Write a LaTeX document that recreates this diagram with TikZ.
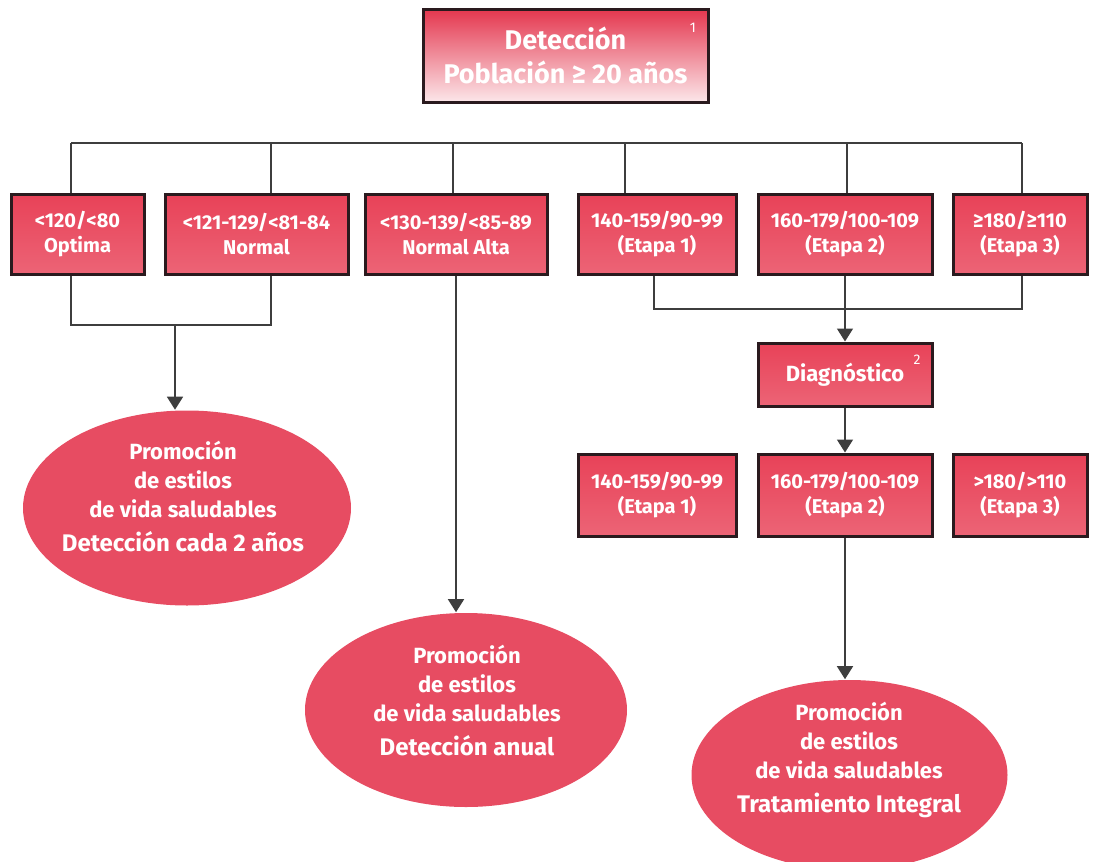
\documentclass[tikz,border=0pt]{standalone}
\usepackage{fontspec}
\setmainfont{Fira Sans}
\usepackage{tikz}
\usetikzlibrary{arrows.meta}
\usetikzlibrary{positioning, shapes.geometric}

\definecolor{boxred}{RGB}{232,66,88}
\definecolor{topred}{RGB}{228,54,78}
\definecolor{ovalred}{RGB}{231,76,98}
\definecolor{rimdark}{RGB}{42,26,30}
\definecolor{linegray}{RGB}{62,62,62}

\begin{document}
\begin{tikzpicture}[x=1pt,y=-1pt,>={Triangle[width=16pt,length=13pt]},line width=1.6pt,draw=linegray,
    box node/.style={rectangle,draw=rimdark,line width=3pt,top color=boxred,bottom color=boxred!82!white,
      text=white,align=center,font=\bfseries\fontsize{20}{25}\selectfont,minimum height=80pt,inner sep=2pt},
    top node/.style={rectangle,draw=rimdark,line width=3pt,top color=topred,middle color=topred!92!white,
      bottom color=topred!12!white,text=white,align=center,font=\bfseries\fontsize{27}{34}\selectfont,
      minimum width=285pt,minimum height=93pt},
    oval node/.style={ellipse,fill=ovalred,draw=none,inner sep=0pt},
    oval text/.style={text=white,align=center,font=\bfseries\fontsize{22}{29}\selectfont},
    note/.style={text=white,font=\fontsize{14}{14}\selectfont,inner sep=0pt}]
    \useasboundingbox (0,0) rectangle (1095,862);

        % detection
        \node[top node] (0) at (565.5,55.5) {Detección\\Población ≥ 20 años};
        \node[note] (n1) at (693,28) {1};

        % first row
        \node[box node,minimum width=133pt] (1) at (77.5,234.5)  {<120/<80\\Optima};
        \node[box node,minimum width=183pt] (2) at (256.5,234.5) {<121-129/<81-84\\Normal};
        \node[box node,minimum width=182pt] (3) at (456,234.5)   {<130-139/<85-89\\Normal Alta};
        \node[box node,minimum width=158pt] (4) at (657,234.5)   {140-159/90-99\\(Etapa 1)};
        \node[box node,minimum width=174pt] (5) at (845,234.5)   {160-179/100-109\\(Etapa 2)};
        \node[box node,minimum width=134pt] (6) at (1020,234.5)  {≥180/≥110\\(Etapa 3)};

        % diagnosis and second row
        \node[box node,minimum width=174pt,minimum height=63pt,font=\bfseries\fontsize{22}{26}\selectfont] (7) at (845,374.5) {Diagnóstico};
        \node[note] (n2) at (917,360) {2};
        \node[box node,minimum width=158pt,minimum height=82pt] (8)  at (657,495)  {140-159/90-99\\(Etapa 1)};
        \node[box node,minimum width=174pt,minimum height=82pt] (9)  at (845,495)  {160-179/100-109\\(Etapa 2)};
        \node[box node,minimum width=134pt,minimum height=82pt] (10) at (1020,495) {>180/>110\\(Etapa 3)};

        % ellipses
        \node[oval node,minimum width=328pt,minimum height=195pt] (11) at (187,508) {};
        \node[oval text] (11t) at (183,497) {Promoción\\de estilos\\de vida saludables\\[5pt]{\fontsize{24}{29}\selectfont Detección cada 2 años}};
        \node[oval node,minimum width=322pt,minimum height=194pt] (12) at (466,710) {};
        \node[oval text] (12t) at (467,701) {Promoción\\de estilos\\de vida saludables\\[5pt]{\fontsize{24}{29}\selectfont Detección anual}};
        \node[oval node,minimum width=316pt,minimum height=190pt] (13) at (849.5,775) {};
        \node[oval text] (13t) at (849,760) {Promoción\\de estilos\\de vida saludables\\[5pt]{\fontsize{24}{29}\selectfont Tratamiento Integral}};

        % bus lines
        \coordinate (t1) at (71,143);  \coordinate (t2) at (271,143);
        \coordinate (t3) at (453,143); \coordinate (t4) at (625,143);
        \coordinate (t5) at (847,143); \coordinate (t6) at (1022,143);
        \coordinate (l1) at (71,325);  \coordinate (l2) at (271,325); \coordinate (l0) at (175,325);
        \coordinate (r4) at (654,309); \coordinate (r6) at (1022,309);

        \draw (t1) -- (t6);
        \foreach \i in {1,...,6}
            \draw (t\i) -- (t\i |- \i.north);
        \draw (1.south -| l1) -- (l1) -- (l2) -- (2.south -| l2);
        \draw (4.south -| r4) -- (r4) -- (r6) -- (6.south -| r6);

          \path[->]
            (l0)      edge (l0 |- 11.north)
            (3.south) edge (3.south |- 12.north)
            (5)       edge (7)
            (7)       edge (9)
            (9)       edge (9.south |- 13.north);
        \end{tikzpicture}
\end{document}
